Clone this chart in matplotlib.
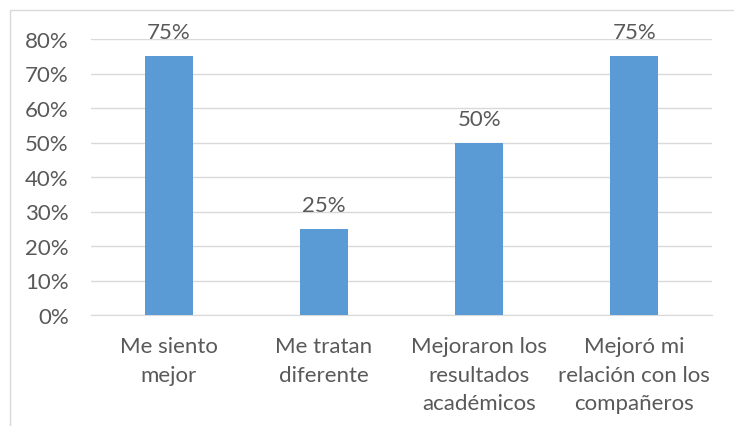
import matplotlib.pyplot as plt
from matplotlib.patches import Rectangle

categories = ["Me siento\nmejor", "Me tratan\ndiferente",
              "Mejoraron los\nresultados\nacadémicos",
              "Mejoró mi\nrelación con los\ncompañeros"]
values = [0.75, 0.25, 0.50, 0.75]
yticks = [0, 0.1, 0.2, 0.3, 0.4, 0.5, 0.6, 0.7, 0.8]

plt.rcParams['font.family'] = ['Lato', 'DejaVu Sans']
text_color = '#595959'
grid_color = '#D9D9D9'
bar_color = '#5B9BD5'

fig = plt.figure(figsize=(7.34, 4.27), dpi=100)
ax = fig.add_axes([91/734, 111/427, 621/734, 276/427])

x = range(len(categories))
bars = ax.bar(x, values, width=0.31, color=bar_color, zorder=3)

# Data labels above bars
for xi, v in zip(x, values):
    ax.annotate(f"{round(v*100)}%", (xi, v), xytext=(0, 10), textcoords='offset points',
                ha='center', va='bottom', fontsize=16, color=text_color)

ax.set_xlim(-0.5, len(categories) - 0.5)
ax.set_ylim(0, 0.8)
ax.set_yticks(yticks)
ax.set_yticklabels([f"{round(t*100)}%" for t in yticks])
ax.set_xticks(list(x))
ax.set_xticklabels(categories, linespacing=1.55)
ax.tick_params(axis='both', length=0, labelsize=16, colors=text_color)
ax.tick_params(axis='x', pad=15)
ax.tick_params(axis='y', pad=16)

ax.grid(axis='y', color=grid_color, linewidth=1, zorder=0)
for side in ['top', 'right', 'left']:
    ax.spines[side].set_visible(False)
ax.spines['bottom'].set_color(grid_color)

# Chart border
fig.patches.append(Rectangle((10/734, -0.1), 1.2, (427 - 11)/427 + 0.1,
                             transform=fig.transFigure, fill=False,
                             edgecolor=grid_color, linewidth=1))

fig.savefig('out.png', dpi=100)
